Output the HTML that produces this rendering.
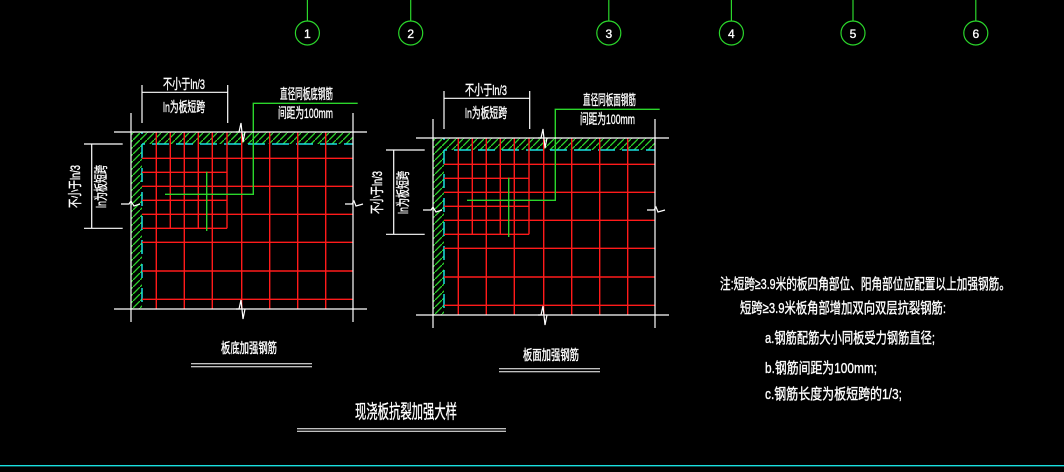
<!DOCTYPE html>
<html><head><meta charset="utf-8"><style>
html,body{margin:0;padding:0;background:#000;}
svg{display:block}
text{font-family:"Liberation Sans","Noto Sans CJK SC",sans-serif;fill:#fff;stroke:#fff;stroke-width:0.35}
</style></head><body>
<svg width="1064" height="472" viewBox="0 0 1064 472" xmlns="http://www.w3.org/2000/svg">
<defs>
<pattern id="h" patternUnits="userSpaceOnUse" width="7" height="7">
<line x1="0" y1="7" x2="7" y2="0" stroke="#2bd62b" stroke-width="1.3"/>
</pattern>
<g id="det">
 <rect x="131" y="132" width="222" height="12" fill="url(#h)"/>
 <rect x="131" y="132" width="11" height="177" fill="url(#h)"/>
 <g stroke="#19e0e0" stroke-width="1.5">
  <line x1="142" y1="144" x2="353" y2="144" stroke-dasharray="17,7" stroke-dashoffset="-10"/>
  <line x1="142" y1="132" x2="142" y2="309" stroke-dasharray="14,10" stroke-dashoffset="-12"/>
 </g>
 <g stroke="#ff1a1a" stroke-width="1.4">
  <line x1="142" y1="158.3" x2="353" y2="158.3"/>
  <line x1="142" y1="186.3" x2="353" y2="186.3"/>
  <line x1="142" y1="214.3" x2="353" y2="214.3"/>
  <line x1="142" y1="242.3" x2="353" y2="242.3"/>
  <line x1="142" y1="271" x2="353" y2="271"/>
  <line x1="142" y1="299.3" x2="353" y2="299.3"/>
  <line x1="142" y1="172.3" x2="227" y2="172.3"/>
  <line x1="142" y1="200.3" x2="227" y2="200.3"/>
  <line x1="142" y1="228.3" x2="227" y2="228.3"/>
  <line x1="156.3" y1="132" x2="156.3" y2="309"/>
  <line x1="184.3" y1="132" x2="184.3" y2="309"/>
  <line x1="212.3" y1="132" x2="212.3" y2="309"/>
  <line x1="241.7" y1="132" x2="241.7" y2="309"/>
  <line x1="269.7" y1="132" x2="269.7" y2="309"/>
  <line x1="297.7" y1="132" x2="297.7" y2="309"/>
  <line x1="325.7" y1="132" x2="325.7" y2="309"/>
  <line x1="170.3" y1="132" x2="170.3" y2="228.3"/>
  <line x1="198.3" y1="132" x2="198.3" y2="228.3"/>
  <line x1="227" y1="132" x2="227" y2="228.3"/>
 </g>
 <g stroke="#2bd62b" stroke-width="1.4" fill="none">
  <polyline points="165,194.3 253.3,194.3 253.3,103.3 357.7,103.3"/>
  <line x1="206.7" y1="171.7" x2="206.7" y2="231"/>
 </g>
 <g stroke="#fff" stroke-width="1.2" fill="none">
  <line x1="114" y1="132" x2="367" y2="132"/>
  <line x1="114" y1="309" x2="367" y2="309"/>
  <line x1="131" y1="113" x2="131" y2="322"/>
  <line x1="353" y1="113" x2="353" y2="322"/>
  <polyline points="236,132 239,132 241,123 243,142 245,132"/>
  <polyline points="236,309 239,309 241,300 243,319 245,309"/>
  <polyline points="121,204 129,204 131,201 134,206 140,204"/>
  <polyline points="345,204 352,204 354,201 356,206 363,204"/>
  <line x1="142" y1="92.3" x2="227.7" y2="92.3"/>
  <line x1="142" y1="85" x2="142" y2="123"/>
  <line x1="227.7" y1="85" x2="227.7" y2="123"/>
  <line x1="91.7" y1="144" x2="91.7" y2="228.3"/>
  <line x1="84" y1="144" x2="122.7" y2="144"/>
  <line x1="84" y1="228.3" x2="122.7" y2="228.3"/>
 </g>
 <text x="163" y="89" font-size="14" textLength="42" lengthAdjust="spacingAndGlyphs">不小于ln/3</text>
 <text x="163" y="112" font-size="14" textLength="42" lengthAdjust="spacingAndGlyphs">ln为板短跨</text>
 <text x="278" y="118" font-size="14" textLength="55" lengthAdjust="spacingAndGlyphs">间距为100mm</text>
 <text transform="translate(80,208) rotate(-90)" font-size="14" textLength="43" lengthAdjust="spacingAndGlyphs">不小于ln/3</text>
 <text transform="translate(106,208) rotate(-90)" font-size="14" textLength="43" lengthAdjust="spacingAndGlyphs">ln为板短跨</text>
</g>
</defs>

<g stroke="#2bd62b" stroke-width="1.2" fill="none">
 <line x1="307.4" y1="0" x2="307.4" y2="21"/><circle cx="307.4" cy="33" r="12"/>
 <line x1="410.7" y1="0" x2="410.7" y2="21"/><circle cx="410.7" cy="33" r="12"/>
 <line x1="608.8" y1="0" x2="608.8" y2="21"/><circle cx="608.8" cy="33" r="12"/>
 <line x1="731.4" y1="0" x2="731.4" y2="21"/><circle cx="731.4" cy="33" r="12"/>
 <line x1="853" y1="0" x2="853" y2="21"/><circle cx="853" cy="33" r="12"/>
 <line x1="975.8" y1="0" x2="975.8" y2="21"/><circle cx="975.8" cy="33" r="12"/>
</g>
<g font-size="12" text-anchor="middle">
 <text x="307.4" y="38">1</text><text x="410.7" y="38">2</text><text x="608.8" y="38">3</text>
 <text x="731.4" y="38">4</text><text x="853" y="38">5</text><text x="975.8" y="38">6</text>
</g>

<use href="#det"/>
<text x="280" y="99" font-size="14" textLength="53" lengthAdjust="spacingAndGlyphs">直径同板底钢筋</text>
<use href="#det" transform="translate(302,6)"/>
<text x="583" y="105" font-size="14" textLength="53" lengthAdjust="spacingAndGlyphs">直径同板面钢筋</text>

<text x="221" y="353" font-size="14" textLength="56" lengthAdjust="spacingAndGlyphs">板底加强钢筋</text>
<g stroke="#fff" stroke-width="1">
 <line x1="191" y1="363.7" x2="312" y2="363.7"/><line x1="191" y1="366.7" x2="312" y2="366.7"/>
 <line x1="499" y1="368.7" x2="600" y2="368.7"/><line x1="499" y1="371.7" x2="600" y2="371.7"/>
 <line x1="297" y1="428.7" x2="506" y2="428.7"/><line x1="297" y1="431.2" x2="506" y2="431.2"/>
</g>
<text x="523" y="360" font-size="14" textLength="56" lengthAdjust="spacingAndGlyphs">板面加强钢筋</text>
<text x="355" y="418" font-size="19" textLength="102" lengthAdjust="spacingAndGlyphs">现浇板抗裂加强大样</text>
<line x1="0" y1="465.7" x2="1064" y2="465.7" stroke="#19e0e0" stroke-width="1.3"/>

<text x="720" y="289" font-size="15" textLength="290" lengthAdjust="spacingAndGlyphs">注:短跨≥3.9米的板四角部位、阳角部位应配置以上加强钢筋。</text>
<text x="740" y="313" font-size="15" textLength="206" lengthAdjust="spacingAndGlyphs">短跨≥3.9米板角部增加双向双层抗裂钢筋:</text>
<text x="765" y="343" font-size="15" textLength="170" lengthAdjust="spacingAndGlyphs">a.钢筋配筋大小同板受力钢筋直径;</text>
<text x="765" y="373" font-size="15" textLength="112" lengthAdjust="spacingAndGlyphs">b.钢筋间距为100mm;</text>
<text x="765" y="399" font-size="15" textLength="137" lengthAdjust="spacingAndGlyphs">c.钢筋长度为板短跨的1/3;</text>
</svg>
</body></html>
